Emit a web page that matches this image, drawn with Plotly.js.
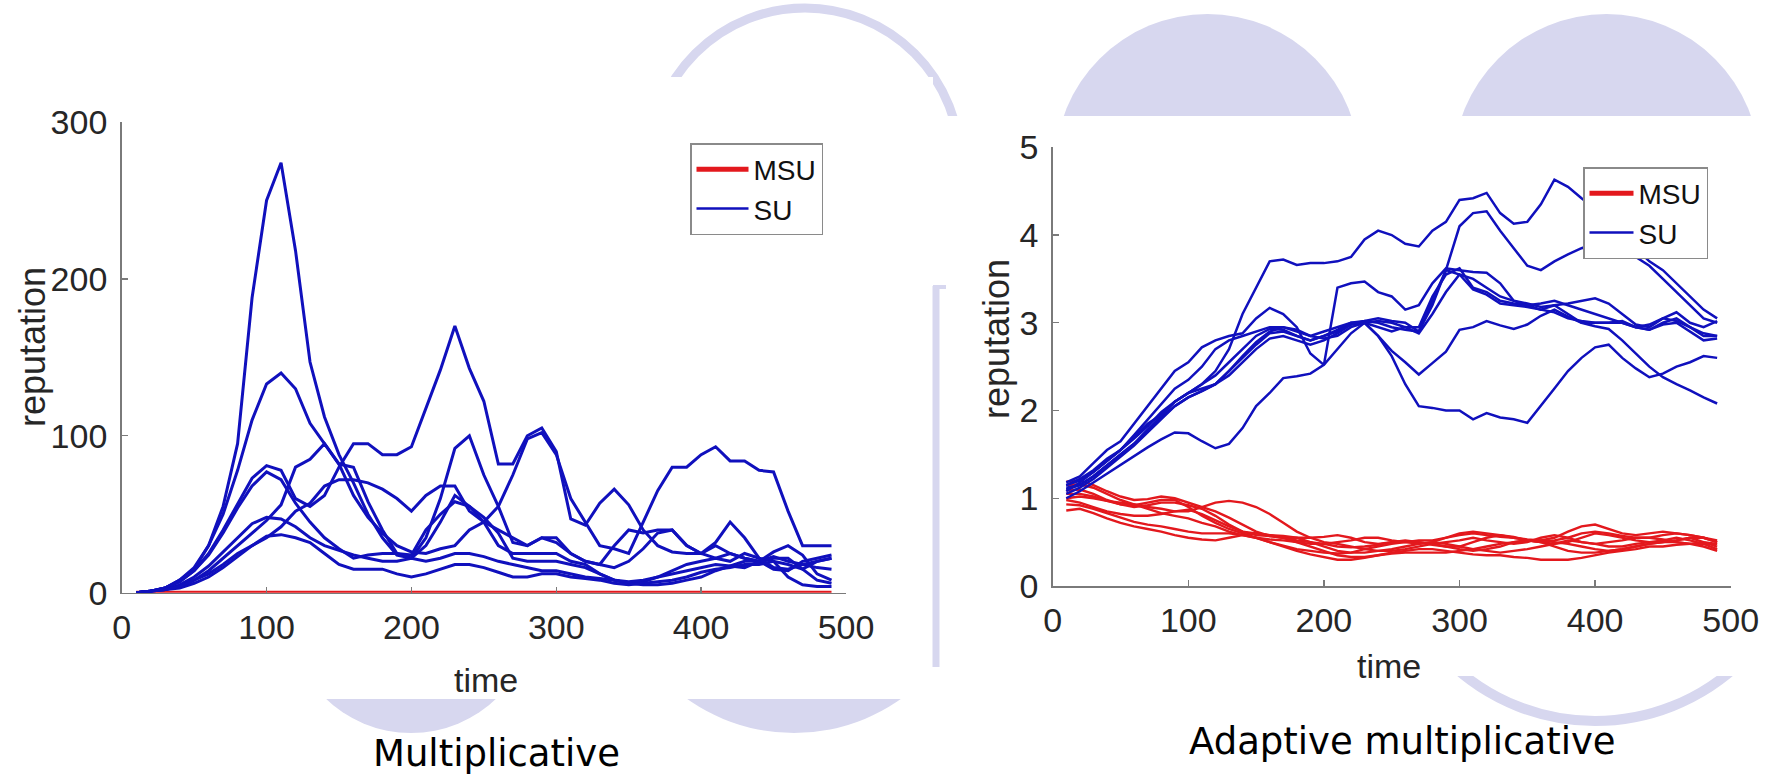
<!DOCTYPE html>
<html>
<head>
<meta charset="utf-8">
<script src="https://cdn.plot.ly/plotly-3.0.1.min.js"></script>
<style>html,body{margin:0;padding:0;background:#fff;}#chart{width:1767px;height:776px;}</style>
</head>
<body>
<div id="chart"></div>
<script>
// ---------- data ----------
const time = [10,20,30,40,50,60,70,80,90,100,110,120,130,140,150,160,170,180,190,200,210,220,230,240,250,260,270,280,290,300,310,320,330,340,350,360,370,380,390,400,410,420,430,440,450,460,470,480,490];

// Multiplicative: SU reputations
const multSU_A = [0,1,3,8,15,30,55,95,188,250, 274,218,147,112,88,70,50,35,24,22, 30,45,62,55,45,30,25,25,25,25, 20,18,12,8,6,7,10,14,18,20, 22,20,25,22,20,18,15,20,22];
const multSU_B = [0,1,3,8,16,30,50,78,110,133, 140,130,108,95,82,80,58,40,25,22, 35,60,92,100,75,55,32,30,35,32, 25,20,18,30,40,38,40,40,30,25, 22,25,22,20,15,14,20,22,24];
const multSU_C = [0,1,3,7,14,25,40,57,73,81, 78,60,55,62,80,95,95,88,88,93, 118,142,170,143,122,82,82,100,105,90, 47,43,57,66,56,40,30,26,25,25, 30,25,22,20,22,22,15,8,6];
const multSU_D = [0,1,3,7,14,24,38,54,68,77, 72,57,45,35,28,22,24,25,25,24, 40,50,58,55,48,38,22,20,20,20, 18,16,12,8,6,5,5,6,8,10, 14,17,20,20,23,20,18,16,15];
const multSU_E = [0,1,2,5,10,17,26,35,44,48, 47,42,35,30,27,24,22,20,20,22, 20,22,25,25,23,20,18,16,14,14, 12,10,9,8,7,8,10,12,14,16, 18,17,16,20,26,30,24,12,8];
const multSU_F = [0,1,2,3,6,10,16,23,30,36, 37,35,32,25,18,15,15,15,12,10, 12,15,18,18,16,13,10,10,12,12, 10,9,8,6,5,6,7,8,10,13, 15,16,18,18,20,10,5,4,4];
const multSU_G = [0,1,2,4,8,14,22,30,38,46, 56,80,85,95,82,62,48,38,30,26, 25,28,30,40,45,55,75,98,102,88, 60,45,30,28,25,45,65,80,80,88, 93,84,84,78,77,52,30,30,30];
const multSU_H = [0,1,2,4,8,12,18,25,30,35, 42,52,57,68,72,72,70,66,60,52, 62,68,68,52,45,40,35,30,35,35, 25,20,18,16,20,28,38,40,30,25, 32,45,35,22,16,15,18,20,22];
// Multiplicative: MSU reputations (all near zero)
const multMSU = [0,0,0,0,0,0,0,0,0,0, 0,0,0,0,0,0,0,0,0,0, 0,0,0,0,0,0,0,0,0,0, 0,0,0,0,0,0,0,0,0,0, 0,0,0,0,0,0,0,0,0];

// Adaptive multiplicative: SU reputations
const adSU_1 = [1.15,1.22,1.32,1.45,1.55,1.7,1.85,1.95,2.1,2.2, 2.3,2.45,2.7,3.1,3.4,3.7,3.72,3.66,3.68,3.68, 3.7,3.75,3.95,4.05,4.0,3.9,3.87,4.05,4.15,4.4, 4.42,4.48,4.25,4.13,4.15,4.35,4.63,4.55,4.42,4.3, 4.15,4.0,3.85,3.7,3.6,3.45,3.3,3.15,3.05];
const adSU_2 = [1.1,1.15,1.25,1.38,1.5,1.62,1.78,1.92,2.05,2.15, 2.22,2.3,2.45,2.6,2.75,2.88,2.9,2.85,2.8,2.85, 2.92,3.0,3.02,3.05,3.02,3.0,2.9,3.2,3.6,4.1, 4.25,4.27,4.05,3.85,3.65,3.6,3.7,3.78,3.85,3.9, 3.9,3.85,3.75,3.65,3.5,3.35,3.2,3.05,3.0];
const adSU_3 = [1.18,1.25,1.4,1.55,1.65,1.85,2.05,2.25,2.45,2.55, 2.72,2.8,2.85,2.88,3.05,3.17,3.1,2.95,2.65,2.52, 3.4,3.45,3.47,3.35,3.3,3.15,3.2,3.45,3.62,3.6, 3.58,3.57,3.45,3.25,3.22,3.18,3.2,3.1,3.0,3.0, 3.0,3.0,2.95,2.92,3.0,3.05,2.95,2.85,2.85];
const adSU_4 = [1.0,1.08,1.18,1.28,1.38,1.48,1.58,1.67,1.75,1.74, 1.65,1.57,1.62,1.8,2.05,2.2,2.37,2.39,2.42,2.52, 2.7,2.88,3.0,2.85,2.62,2.3,2.05,2.03,2.0,2.0, 1.9,1.97,1.92,1.9,1.86,2.05,2.25,2.45,2.6,2.72, 2.75,2.6,2.48,2.38,2.42,2.5,2.55,2.62,2.6];
const adSU_5 = [1.15,1.2,1.3,1.42,1.55,1.68,1.82,1.98,2.1,2.2, 2.3,2.4,2.55,2.7,2.85,2.93,2.92,2.85,2.8,2.85, 2.9,2.98,3.0,2.85,2.68,2.55,2.41,2.54,2.67,2.92, 2.95,3.02,2.97,2.93,2.98,3.08,3.15,3.07,3.0,2.96, 2.93,2.8,2.65,2.5,2.38,2.3,2.23,2.15,2.08];
const adSU_6 = [1.05,1.12,1.22,1.35,1.48,1.6,1.75,1.9,2.05,2.15, 2.22,2.3,2.45,2.62,2.78,2.9,2.95,2.92,2.85,2.82, 2.85,2.95,3.0,3.02,3.0,2.95,2.95,3.3,3.55,3.62, 3.4,3.35,3.25,3.22,3.2,3.15,3.2,3.22,3.25,3.28, 3.22,3.1,2.98,2.95,3.05,3.12,3.0,2.95,3.02];
const adSU_7 = [1.12,1.15,1.25,1.38,1.5,1.62,1.78,1.95,2.1,2.2, 2.25,2.3,2.4,2.55,2.7,2.82,2.85,2.8,2.75,2.8, 2.88,2.98,3.02,3.0,2.95,2.92,2.9,3.25,3.6,3.55, 3.38,3.32,3.22,3.2,3.18,3.15,3.12,3.05,3.02,3.0, 3.0,3.02,2.95,2.92,2.98,3.0,2.9,2.8,2.82];
const adSU_8 = [1.08,1.18,1.3,1.42,1.55,1.72,1.9,2.08,2.25,2.35, 2.5,2.7,2.8,2.85,2.9,2.95,2.95,2.9,2.85,2.9, 2.95,3.0,3.0,2.95,2.9,2.95,2.88,3.1,3.35,3.55, 3.5,3.4,3.3,3.25,3.2,3.22,3.25,3.2,3.15,3.1, 3.05,3.0,2.95,2.98,3.05,3.02,2.95,2.88,2.85];

// Adaptive multiplicative: MSU reputations
const adMSU_1 = [1.19,1.2,1.15,1.08,1.02,0.98,0.99,1.02,1.0,0.95, 0.9,0.85,0.78,0.7,0.62,0.57,0.55,0.55,0.55,0.56, 0.58,0.55,0.5,0.48,0.5,0.5,0.52,0.52,0.55,0.58, 0.6,0.58,0.56,0.55,0.53,0.52,0.55,0.62,0.68,0.7, 0.65,0.6,0.58,0.6,0.62,0.6,0.58,0.55,0.52];
const adMSU_2 = [1.09,1.1,1.05,0.98,0.93,0.9,0.92,0.95,0.95,0.92, 0.88,0.8,0.7,0.62,0.58,0.57,0.55,0.52,0.5,0.48, 0.45,0.44,0.45,0.47,0.5,0.52,0.5,0.48,0.45,0.45, 0.5,0.55,0.58,0.56,0.52,0.5,0.48,0.5,0.55,0.6, 0.58,0.55,0.52,0.5,0.5,0.52,0.55,0.5,0.48];
const adMSU_3 = [1.0,1.02,1.0,0.97,0.95,0.93,0.9,0.88,0.85,0.85, 0.9,0.95,0.97,0.95,0.9,0.82,0.72,0.62,0.55,0.5, 0.48,0.45,0.42,0.4,0.4,0.42,0.45,0.48,0.5,0.52, 0.55,0.52,0.5,0.48,0.5,0.55,0.58,0.55,0.5,0.48, 0.5,0.52,0.55,0.55,0.53,0.5,0.48,0.5,0.45];
const adMSU_4 = [0.98,0.95,0.9,0.85,0.82,0.8,0.8,0.82,0.85,0.87, 0.82,0.75,0.68,0.62,0.6,0.58,0.57,0.55,0.5,0.45, 0.4,0.38,0.38,0.4,0.42,0.45,0.48,0.5,0.48,0.45, 0.42,0.4,0.38,0.4,0.42,0.45,0.48,0.52,0.5,0.48, 0.45,0.45,0.48,0.5,0.52,0.55,0.52,0.48,0.42];
const adMSU_5 = [0.86,0.88,0.83,0.77,0.72,0.68,0.65,0.62,0.58,0.55, 0.53,0.52,0.55,0.58,0.6,0.58,0.55,0.5,0.45,0.4, 0.35,0.33,0.33,0.35,0.37,0.38,0.38,0.38,0.38,0.4, 0.42,0.45,0.48,0.5,0.52,0.52,0.5,0.48,0.45,0.42, 0.4,0.42,0.45,0.48,0.5,0.5,0.48,0.45,0.4];
const adMSU_6 = [0.93,0.92,0.88,0.83,0.78,0.73,0.7,0.68,0.65,0.62, 0.6,0.6,0.6,0.58,0.55,0.5,0.45,0.4,0.36,0.33, 0.3,0.3,0.32,0.35,0.38,0.4,0.42,0.42,0.4,0.38, 0.36,0.35,0.35,0.33,0.32,0.3,0.3,0.3,0.32,0.35, 0.38,0.4,0.42,0.45,0.45,0.47,0.48,0.48,0.48];
const adMSU_7 = [1.05,1.05,1.02,0.97,0.93,0.92,0.95,0.98,0.98,0.9, 0.8,0.72,0.65,0.6,0.55,0.5,0.46,0.42,0.4,0.38, 0.37,0.38,0.42,0.45,0.48,0.5,0.5,0.47,0.45,0.42, 0.4,0.42,0.45,0.5,0.52,0.5,0.45,0.4,0.38,0.38, 0.4,0.42,0.45,0.48,0.5,0.52,0.55,0.55,0.5];
const adMSU_8 = [1.15,1.16,1.12,1.05,0.98,0.93,0.88,0.83,0.8,0.77, 0.72,0.68,0.62,0.58,0.55,0.53,0.52,0.5,0.48,0.48, 0.5,0.52,0.55,0.55,0.52,0.5,0.48,0.5,0.55,0.6, 0.62,0.6,0.58,0.55,0.52,0.5,0.52,0.55,0.6,0.62, 0.6,0.57,0.55,0.55,0.58,0.6,0.58,0.55,0.5];

const xTicks = [0,100,200,300,400,500];
const yTicksLeft = [0,100,200,300];
const yTicksRight = [0,1,2,3,4,5];
const xTitle = 'time';
const yTitle = 'reputation';
const captionLeft = 'Multiplicative';
const captionRight = 'Adaptive multiplicative';

// ---------- styling ----------
const W = 1767, H = 776;
const BLUE = '#1010bd';
const RED = '#e3181d';
const LAV = '#d7d7ef';
const AX = '#7a7a7a';
const TXT = '#262626';
const FONT = 'Liberation Sans, Arial, sans-serif';
const px = v => v / W;
const py = v => 1 - v / H;

const traces = [];
const multSU = [multSU_A, multSU_B, multSU_C, multSU_D, multSU_E, multSU_F, multSU_G, multSU_H];
const adSU = [adSU_1, adSU_2, adSU_3, adSU_4, adSU_5, adSU_6, adSU_7, adSU_8];
const adMSU = [adMSU_1, adMSU_2, adMSU_3, adMSU_4, adMSU_5, adMSU_6, adMSU_7, adMSU_8];

traces.push({x: time, y: multMSU, xaxis: 'x', yaxis: 'y', mode: 'lines', line: {color: RED, width: 4}, showlegend: false, cliponaxis: false});
multSU.forEach(s => traces.push({x: time, y: s, xaxis: 'x', yaxis: 'y', mode: 'lines', line: {color: BLUE, width: 3}, showlegend: false, cliponaxis: false}));
adMSU.forEach(s => traces.push({x: time, y: s, xaxis: 'x2', yaxis: 'y2', mode: 'lines', line: {color: RED, width: 2.4}, showlegend: false, cliponaxis: false}));
adSU.forEach(s => traces.push({x: time, y: s, xaxis: 'x2', yaxis: 'y2', mode: 'lines', line: {color: BLUE, width: 2.5}, showlegend: false, cliponaxis: false}));

// legend entries (no data of their own)
traces.push({x: [null], y: [null], xaxis: 'x', yaxis: 'y', mode: 'lines', name: 'MSU', line: {color: RED, width: 5}, legend: 'legend'});
traces.push({x: [null], y: [null], xaxis: 'x', yaxis: 'y', mode: 'lines', name: 'SU', line: {color: BLUE, width: 2.5}, legend: 'legend'});
traces.push({x: [null], y: [null], xaxis: 'x2', yaxis: 'y2', mode: 'lines', name: 'MSU', line: {color: RED, width: 5}, legend: 'legend2'});
traces.push({x: [null], y: [null], xaxis: 'x2', yaxis: 'y2', mode: 'lines', name: 'SU', line: {color: BLUE, width: 2.5}, legend: 'legend2'});

function xAxis(domain, anchor) {
  return {
    domain: domain, anchor: anchor, range: [0, 500], tickvals: xTicks, ticktext: xTicks.map(String),
    showline: true, linecolor: AX, linewidth: 1.6, ticks: 'inside', ticklen: 6, tickcolor: AX, tickwidth: 1.4,
    showgrid: false, zeroline: false, tickfont: {family: FONT, size: 34, color: TXT},
    ticklabelstandoff: 4, automargin: false
  };
}
function yAxis(domain, anchor, range, ticks) {
  return {
    domain: domain, anchor: anchor, range: range, tickvals: ticks, ticktext: ticks.map(String),
    showline: true, linecolor: AX, linewidth: 1.6, ticks: 'inside', ticklen: 6, tickcolor: AX, tickwidth: 1.4,
    showgrid: false, zeroline: false, tickfont: {family: FONT, size: 34, color: TXT},
    ticklabelstandoff: 6, automargin: false
  };
}

const legendStyle = (x, y, iw) => ({
  x: x, y: y, xanchor: 'left', yanchor: 'top', xref: 'paper', yref: 'paper',
  bgcolor: '#ffffff', bordercolor: '#8a8a8a', borderwidth: 1.5,
  font: {family: FONT, size: 28, color: '#111'}, itemwidth: iw, tracegroupgap: 0
});

const shapes = [
  // decorative lavender background
  {type: 'circle', xref: 'paper', yref: 'paper', x0: px(650), x1: px(960), y0: py(8), y1: py(318), line: {color: LAV, width: 9}, fillcolor: 'rgba(0,0,0,0)', layer: 'below'},
  {type: 'circle', xref: 'paper', yref: 'paper', x0: px(1055), x1: px(1360), y0: py(14), y1: py(319), line: {width: 0}, fillcolor: LAV, layer: 'below'},
  {type: 'circle', xref: 'paper', yref: 'paper', x0: px(1453), x1: px(1760), y0: py(14), y1: py(321), line: {width: 0}, fillcolor: LAV, layer: 'below'},
  {type: 'circle', xref: 'paper', yref: 'paper', x0: px(288), x1: px(534), y0: py(487), y1: py(733), line: {width: 0}, fillcolor: LAV, layer: 'below'},
  {type: 'circle', xref: 'paper', yref: 'paper', x0: px(609), x1: px(979), y0: py(363), y1: py(733), line: {width: 0}, fillcolor: LAV, layer: 'below'},
  {type: 'circle', xref: 'paper', yref: 'paper', x0: px(1385), x1: px(1805), y0: py(301), y1: py(721), line: {color: LAV, width: 10}, fillcolor: 'rgba(0,0,0,0)', layer: 'below'},
  // white chart panels
  {type: 'rect', xref: 'paper', yref: 'paper', x0: px(0), x1: px(933), y0: py(77), y1: py(699), line: {width: 0}, fillcolor: '#ffffff', layer: 'below'},
  {type: 'rect', xref: 'paper', yref: 'paper', x0: px(926), x1: px(1767), y0: py(116), y1: py(676), line: {width: 0}, fillcolor: '#ffffff', layer: 'below'},
  // thin lavender strip between the panels
  {type: 'line', xref: 'paper', yref: 'paper', x0: px(936), x1: px(936), y0: py(286), y1: py(667), line: {color: LAV, width: 7}, layer: 'below'},
  {type: 'line', xref: 'paper', yref: 'paper', x0: px(933), x1: px(946), y0: py(287), y1: py(287), line: {color: LAV, width: 4}, layer: 'below'}
];

const titleFont = {family: FONT, size: 34, color: TXT};
const yTitleFont = {family: FONT, size: 36, color: TXT};
const capFont = {family: 'Comic Sans MS, DejaVu Sans, sans-serif', size: 37, color: '#000'};

const layout = {
  width: W, height: H, margin: {l: 0, r: 0, t: 0, b: 0},
  paper_bgcolor: '#ffffff', plot_bgcolor: 'rgba(0,0,0,0)',
  showlegend: true,
  xaxis: xAxis([px(121.7), px(846)], 'y'),
  yaxis: yAxis([py(592.7), py(122)], 'x', [0, 300], yTicksLeft),
  xaxis2: xAxis([px(1052.7), px(1730.7)], 'y2'),
  yaxis2: yAxis([py(586), py(147.3)], 'x2', [0, 5], yTicksRight),
  legend: legendStyle(px(690), py(143), 52),
  legend2: legendStyle(px(1583), py(167), 44),
  shapes: shapes,
  annotations: [
    {text: xTitle, xref: 'paper', yref: 'paper', x: px(486), y: py(680), xanchor: 'center', yanchor: 'middle', showarrow: false, font: titleFont},
    {text: xTitle, xref: 'paper', yref: 'paper', x: px(1389), y: py(666), xanchor: 'center', yanchor: 'middle', showarrow: false, font: titleFont},
    {text: yTitle, xref: 'paper', yref: 'paper', x: px(32), y: py(347), xanchor: 'center', yanchor: 'middle', textangle: -90, showarrow: false, font: yTitleFont},
    {text: yTitle, xref: 'paper', yref: 'paper', x: px(996), y: py(339), xanchor: 'center', yanchor: 'middle', textangle: -90, showarrow: false, font: yTitleFont},
    {text: captionLeft, xref: 'paper', yref: 'paper', x: px(496), y: py(753), xanchor: 'center', yanchor: 'middle', showarrow: false, font: capFont},
    {text: captionRight, xref: 'paper', yref: 'paper', x: px(1402), y: py(741), xanchor: 'center', yanchor: 'middle', showarrow: false, font: capFont}
  ]
};

Plotly.newPlot('chart', traces, layout, {displayModeBar: false, staticPlot: true});
</script>
</body>
</html>
